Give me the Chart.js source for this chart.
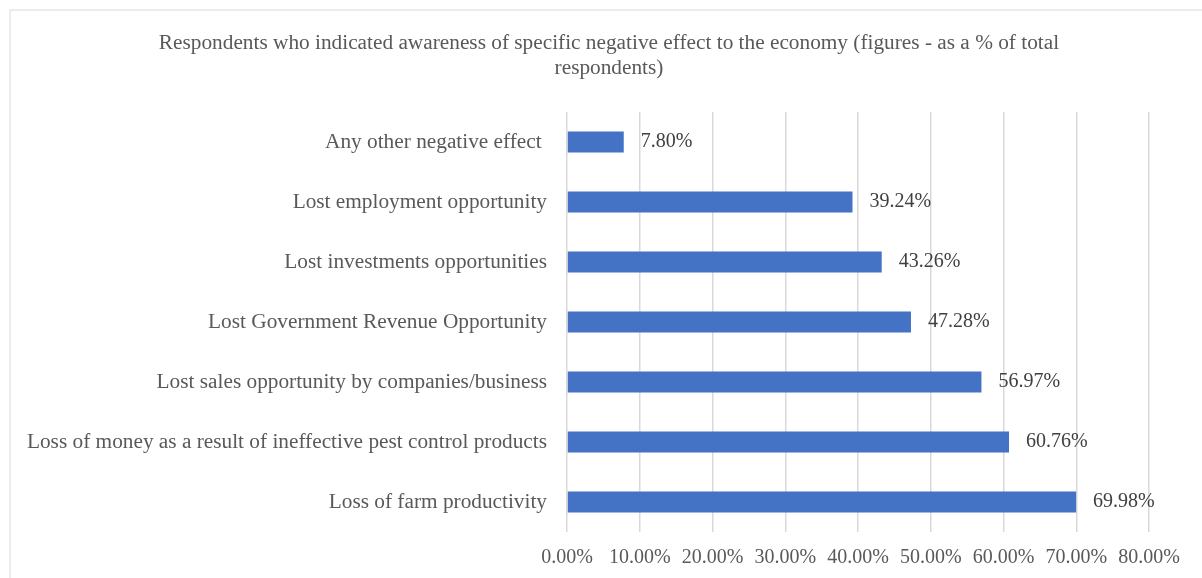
<!DOCTYPE html>
<html>
<head>
<meta charset="utf-8">
<script src="https://cdn.jsdelivr.net/npm/chart.js@4.4.1/dist/chart.umd.min.js"></script>
<style>
    html, body { margin: 0; padding: 0; background: #ffffff; overflow: hidden; }
    #chart-wrap { position: relative; width: 1202px; height: 578px; }
</style>
</head>
<body>
<div id="chart-wrap">
    <canvas id="effects-chart" width="1202" height="578"></canvas>
</div>
<script>
const chartTitle = [
    'Respondents who indicated awareness of specific negative effect to the economy (figures - as a % of total',
    'respondents)'
];

const effectLabels = [
    'Any other negative effect ',
    'Lost employment opportunity',
    'Lost investments opportunities',
    'Lost Government Revenue Opportunity',
    'Lost sales opportunity by companies/business',
    'Loss of money as a result of ineffective pest control products',
    'Loss of farm productivity'
];

const effectShares = [7.80, 39.24, 43.26, 47.28, 56.97, 60.76, 69.98];

const axisMin = 0;
const axisMax = 80;
const axisStep = 10;

const serif = '"Liberation Serif", "Times New Roman", serif';
const textGrey = '#595959';

// outer frame of the chart object
const framePlugin = {
    id: 'frame',
    beforeDraw(chart) {
        const ctx = chart.ctx;
        ctx.save();
        ctx.fillStyle = '#ffffff';
        ctx.fillRect(0, 0, chart.width, chart.height);
        ctx.strokeStyle = '#d9d9d9';
        ctx.lineWidth = 1;
        ctx.strokeRect(10, 10, chart.width + 20, chart.height + 20);
        ctx.restore();
    }
};

// two-line title centred on the whole frame
const titlePlugin = {
    id: 'frameTitle',
    afterDraw(chart) {
        const ctx = chart.ctx;
        ctx.save();
        ctx.font = '21.3px ' + serif;
        ctx.fillStyle = textGrey;
        ctx.textAlign = 'center';
        ctx.textBaseline = 'alphabetic';
        chartTitle.forEach((line, i) => {
            ctx.fillText(line, 609, 49 + i * 25);
        });
        ctx.restore();
    }
};

// value labels just past the end of each bar
const valueLabelPlugin = {
    id: 'valueLabels',
    afterDatasetsDraw(chart) {
        const ctx = chart.ctx;
        const meta = chart.getDatasetMeta(0);
        ctx.save();
        ctx.font = '20px ' + serif;
        ctx.fillStyle = '#404040';
        ctx.textAlign = 'left';
        ctx.textBaseline = 'middle';
        meta.data.forEach((bar, i) => {
            const value = chart.data.datasets[0].data[i];
            ctx.fillText(value.toFixed(2) + '%', bar.x + 17, bar.y);
        });
        ctx.restore();
    }
};

const ctx = document.querySelector('#effects-chart').getContext('2d');
new Chart(ctx, {
    type: 'bar',
    data: {
        labels: effectLabels,
        datasets: [{
            data: effectShares,
            backgroundColor: '#4472C4',
            borderWidth: 0,
            barPercentage: 0.35,
            categoryPercentage: 1
        }]
    },
    options: {
        indexAxis: 'y',
        responsive: false,
        animation: false,
        events: [],
        layout: {
            padding: { top: 112, right: 53, bottom: 0, left: 0 }
        },
        plugins: {
            legend: { display: false },
            title: { display: false },
            tooltip: { enabled: false }
        },
        scales: {
            x: {
                min: axisMin,
                max: axisMax,
                afterFit(scale) { scale.height = 46; },
                ticks: {
                    stepSize: axisStep,
                    padding: 14,
                    color: textGrey,
                    font: { family: serif, size: 20 },
                    callback: value => value.toFixed(2) + '%'
                },
                grid: {
                    color: '#d9d9d9',
                    lineWidth: 1.5,
                    drawTicks: false
                },
                border: { display: false }
            },
            y: {
                afterFit(scale) { scale.width = 567; },
                ticks: {
                    padding: 20,
                    color: textGrey,
                    font: { family: serif, size: 21.3 }
                },
                grid: { display: false, drawTicks: false },
                border: { display: false }
            }
        }
    },
    plugins: [framePlugin, titlePlugin, valueLabelPlugin]
});
</script>
</body>
</html>
